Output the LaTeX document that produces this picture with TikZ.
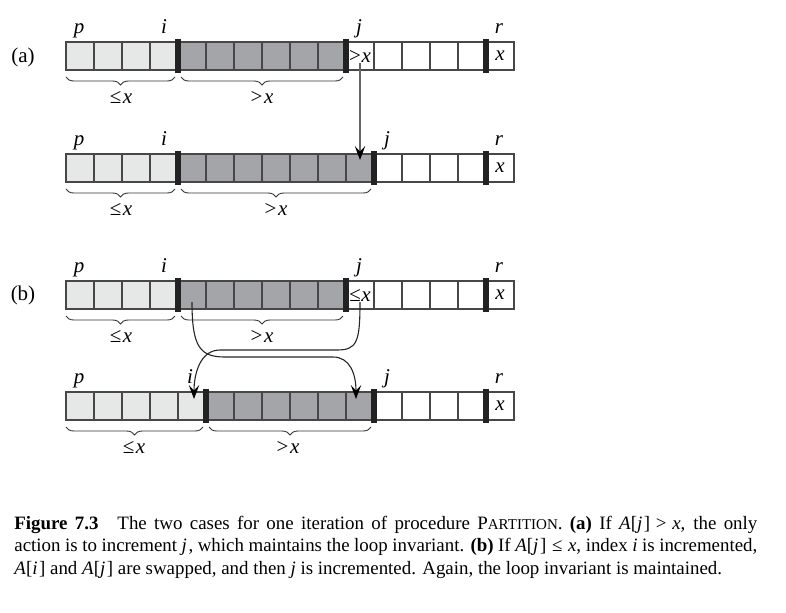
\documentclass[tikz,border=0pt]{standalone}
\usepackage{fontspec}
\setmainfont{Liberation Serif}
\usetikzlibrary{decorations.pathreplacing,arrows.meta}
\definecolor{lightgr}{HTML}{E6E7E7}
\definecolor{darkgr}{HTML}{A3A5A8}
\definecolor{barc}{HTML}{222222}
\newcommand\figfont{\fontsize{10.5}{12}\selectfont}
\newcommand\arrayrow[4]{% name, top y, n light, n dark
  \pgfmathtruncatemacro\mylim{#3+#4}
  \foreach \k in {0,...,15}{
    \pgfmathtruncatemacro\cx{80+28*\k}
    \ifnum\k<#3\relax\def\fc{lightgr}\else\ifnum\k<\mylim\relax\def\fc{darkgr}\else\def\fc{white}\fi\fi
    \node[cell, fill=\fc] (#1-\k) at (\cx,#2+14) {};
  }
}
\begin{document}
\begin{tikzpicture}[x=0.5pt,y=-0.5pt,
  cell/.style={draw=black!72, line width=0.55pt, minimum width=14pt, minimum height=14pt, inner sep=0pt, outer sep=0pt},
  bar/.style={fill=barc, minimum width=3pt, minimum height=17pt, inner sep=0pt, outer sep=0pt},
  lab/.style={anchor=base, inner sep=0pt, font=\figfont\itshape},
  ctext/.style={inner sep=0pt, font=\figfont},
  brc/.style={decorate, decoration={brace, amplitude=4pt, mirror}, draw=black!80, line width=0.45pt},
  blab/.style={anchor=base, inner sep=0pt, font=\figfont},
  arr/.style={-{Stealth[length=7pt,width=5.2pt,inset=2.8pt,color=black]}, line width=0.55pt, draw=black!85}
]
\useasboundingbox (0,0) rectangle (786,612);

% ---------- row a1 ----------
\arrayrow{a1}{42}{4}{6}
\node[bar] (a1-b1) at (178,56) {};
\node[bar] (a1-b2) at (346,56) {};
\node[bar] (a1-b3) at (486,56) {};
\node[ctext] (a1-t10) at (a1-10.center) {>\kern0.3pt\textit{x}};
\node[ctext] (a1-t15) at (a1-15.center) {\textit{x}};
\node[lab] (a1-p) at (79,33) {p};
\node[lab] (a1-i) at (164,33) {i};
\node[lab] (a1-j) at (359,33) {j};
\node[lab] (a1-r) at (499,33) {r};
\node[blab] (lbla) at (23,62) {(a)};
\draw[brc] (66,77) -- (175,77);
\draw[brc] (181,77) -- (343,77);
\node[blab] (a1-l1) at (121,103) {≤\kern0.8pt\textit{x}};
\node[blab] (a1-l2) at (262,103) {>\kern0.8pt\textit{x}};

% ---------- row a2 ----------
\arrayrow{a2}{154}{4}{7}
\node[bar] (a2-b1) at (178,168) {};
\node[bar] (a2-b2) at (374,168) {};
\node[bar] (a2-b3) at (486,168) {};
\node[ctext] (a2-t15) at (a2-15.center) {\textit{x}};
\node[lab] (a2-p) at (79,145) {p};
\node[lab] (a2-i) at (164,145) {i};
\node[lab] (a2-j) at (387,145) {j};
\node[lab] (a2-r) at (499,145) {r};
\draw[brc] (66,189) -- (175,189);
\draw[brc] (181,189) -- (371,189);
\node[blab] (a2-l1) at (121,215) {≤\kern0.8pt\textit{x}};
\node[blab] (a2-l2) at (276,215) {>\kern0.8pt\textit{x}};

\draw[arr, draw=black!60] ([yshift=-3.5pt]a1-10.center) -- ([yshift=4pt]a2-10.center);

% ---------- row b1 ----------
\arrayrow{b1}{281}{4}{6}
\node[bar] (b1-b1) at (178,295) {};
\node[bar] (b1-b2) at (346,295) {};
\node[bar] (b1-b3) at (486,295) {};
\node[ctext] (b1-t10) at (b1-10.center) {≤\kern0.3pt\textit{x}};
\node[ctext] (b1-t15) at (b1-15.center) {\textit{x}};
\node[lab] (b1-p) at (79,272) {p};
\node[lab] (b1-i) at (164,272) {i};
\node[lab] (b1-j) at (359,272) {j};
\node[lab] (b1-r) at (499,272) {r};
\node[blab] (lblb) at (23,300) {(b)};
\draw[brc] (66,316) -- (175,316);
\draw[brc] (181,316) -- (343,316);
\node[blab] (b1-l1) at (121,342) {≤\kern0.8pt\textit{x}};
\node[blab] (b1-l2) at (262,342) {>\kern0.8pt\textit{x}};

% ---------- row b2 ----------
\arrayrow{b2}{392}{5}{6}
\node[bar] (b2-b1) at (206,406) {};
\node[bar] (b2-b2) at (374,406) {};
\node[bar] (b2-b3) at (486,406) {};
\node[ctext] (b2-t15) at (b2-15.center) {\textit{x}};
\node[lab] (b2-p) at (79,383) {p};
\node[lab] (b2-i) at (190,383) {i};
\node[lab] (b2-j) at (387,383) {j};
\node[lab] (b2-r) at (499,383) {r};
\draw[brc] (66,427) -- (203,427);
\draw[brc] (209,427) -- (371,427);
\node[blab] (b2-l1) at (134,453) {≤\kern0.8pt\textit{x}};
\node[blab] (b2-l2) at (288,453) {>\kern0.8pt\textit{x}};

% swap arrows
\draw[arr] ([yshift=-3.5pt]b1-4.center) .. controls +(0,45) and +(-25,0) .. (225,357)
   -- (333,357) .. controls +(17,0) and +(0,-25) .. ([xshift=-2pt,yshift=3.5pt]b2-10.center);
\draw[arr] ([yshift=-3.5pt]b1-10.center) .. controls +(0,40) and +(20,0) .. (337,350)
   -- (220,350) .. controls +(-20,0) and +(0,-25) .. ([xshift=1pt,yshift=3.5pt]b2-4.center);

% ---------- caption ----------
\node[anchor=base west, inner sep=0pt] (cap) at (14,529) {\parbox[t]{371.5pt}{\fontsize{9.45}{11.4}\selectfont
\textbf{Figure 7.3}\hspace{1em}The two cases for one iteration of procedure P{\fontsize{7.5}{9}\selectfont ARTITION}. \textbf{(a)} If \textit{A}[\textit{j}\kern0.8pt]\hspace{0.3em}>\hspace{0.3em}\textit{x}, the only\linebreak
action is to increment \textit{j}\kern0.8pt, which maintains the loop invariant. \textbf{(b)} If \textit{A}[\textit{j}\kern0.8pt]\hspace{0.3em}≤\hspace{0.3em}\textit{x}, index \textit{i} is incremented,\linebreak
\textit{A}[\textit{i}\kern0.8pt] and \textit{A}[\textit{j}\kern0.8pt] are swapped, and then \textit{j} is incremented. Again, the loop invariant is maintained.}};
\end{tikzpicture}
\end{document}
